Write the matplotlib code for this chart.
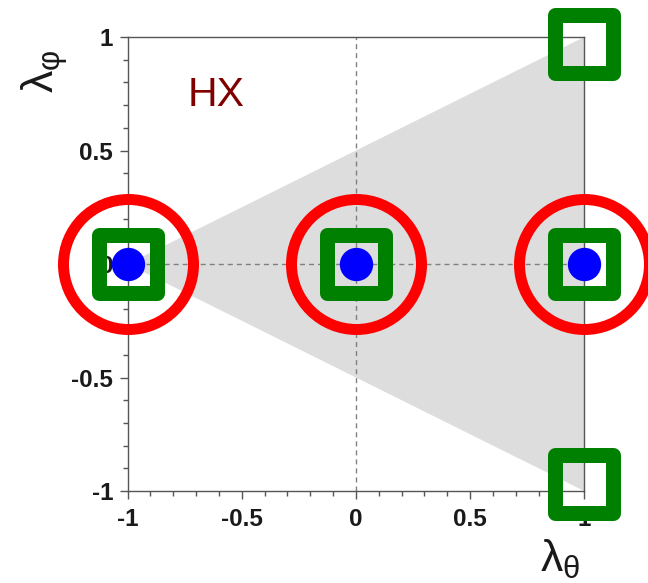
import matplotlib
matplotlib.use('Agg')
import matplotlib.pyplot as plt
from matplotlib.markers import MarkerStyle
from matplotlib.ticker import MultipleLocator, FuncFormatter

plt.rcParams['font.family'] = ['Liberation Sans', 'DejaVu Sans']
plt.rcParams['mathtext.fontset'] = 'custom'
plt.rcParams['mathtext.rm'] = 'Liberation Sans'

# allowed region in the (lambda_theta, lambda_phi) plane
tri_x = [-1, 1, 1]
tri_y = [0, 1, -1]

# frame points
circle_x = [-1, 0, 1]
circle_y = [0, 0, 0]
square_x = [-1, 0, 1, 1, 1]
square_y = [0, 0, 0, 0.97, -0.97]
dot_x = [-1, 0, 1]
dot_y = [0, 0, 0]

frame_label = 'HX'
ticks = [-1, -0.5, 0, 0.5, 1]

fig = plt.figure(figsize=(6.48, 5.83), dpi=100)
ax = fig.add_axes([0.197, 0.1578, 0.7047, 0.7787])

ax.fill(tri_x, tri_y, color='#dddddd', lw=0, zorder=0)
ax.axhline(0, color='#808080', lw=1, dashes=(3.6, 2.9), zorder=1)
ax.axvline(0, color='#808080', lw=1, dashes=(3.6, 2.9), zorder=1)

ax.plot(circle_x, circle_y, ls='none', marker='o', ms=93.6, mfc='none',
        mec='red', mew=7.9, clip_on=False, zorder=5)
ax.plot(square_x, square_y, ls='none',
        marker=MarkerStyle('s', joinstyle='round'), ms=42, mfc='none',
        mec='green', mew=10.8, clip_on=False, zorder=6)
ax.plot(dot_x, dot_y, ls='none', marker='o', ms=24, mfc='blue', mec='none',
        clip_on=False, zorder=7)

ax.text(-0.736, 0.696, frame_label, color='#800000', fontsize=29.5)

ax.set_xlim(-1, 1)
ax.set_ylim(-1, 1)
ax.set_xticks(ticks)
ax.set_yticks(ticks)
ax.xaxis.set_minor_locator(MultipleLocator(0.1))
ax.yaxis.set_minor_locator(MultipleLocator(0.1))
fmt = FuncFormatter(lambda v, p: '%g' % v)
ax.xaxis.set_major_formatter(fmt)
ax.yaxis.set_major_formatter(fmt)
ax.tick_params(which='major', length=6, width=1, color='#555555',
               labelsize=17.5)
ax.tick_params(axis='x', which='major', pad=6)
ax.tick_params(axis='y', which='major', pad=4.5)
ax.tick_params(which='minor', length=3.9, width=1, color='#555555')
for lab in ax.get_xticklabels() + ax.get_yticklabels():
    lab.set_fontweight('bold')
    lab.set_color('#1a1a1a')
for s in ax.spines.values():
    s.set_color('#555555')
    s.set_linewidth(1)

fig.text(0.896, 0.003, r'$\mathregular{λ_{θ}}$', fontsize=32, ha='right',
         va='bottom', color='#1a1a1a')
fig.text(0.068, 0.877, r'$\mathregular{λ_{φ}}$', fontsize=32, rotation=90,
         ha='center', va='center', color='#1a1a1a')

fig.savefig('out.png', dpi=100)
